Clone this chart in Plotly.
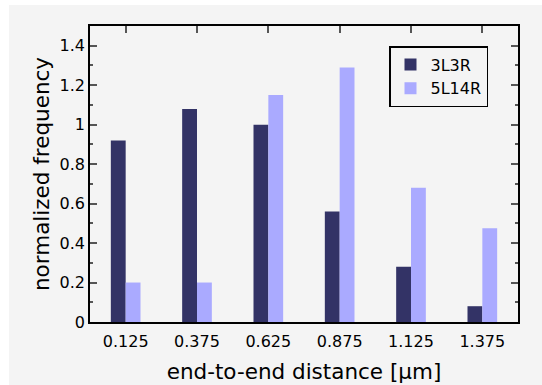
import plotly.graph_objects as go

categories = [0.125, 0.375, 0.625, 0.875, 1.125, 1.375]
tick_labels = ["0.125", "0.375", "0.625", "0.875", "1.125", "1.375"]
series_3L3R = [0.92, 1.08, 1.00, 0.56, 0.28, 0.08]
series_5L14R = [0.20, 0.20, 1.15, 1.29, 0.68, 0.475]

BG = "#f4f4f4"
FONT = "DejaVu Sans"
W, H = 542, 385
L, R, T, B = 90, 24, 26, 63
pw, ph = W - L - R, H - T - B

fig = go.Figure()
fig.add_trace(go.Bar(x=categories, y=series_3L3R, name="3L3R", width=0.052, offset=-0.052,
                     marker=dict(color="#333366", line=dict(width=0))))
fig.add_trace(go.Bar(x=categories, y=series_5L14R, name="5L14R", width=0.052, offset=0,
                     marker=dict(color="#aaaaff", line=dict(width=0))))

fig.update_layout(
    width=W, height=H,
    margin=dict(l=L, r=R, t=T, b=B, pad=0, autoexpand=False),
    paper_bgcolor="white", plot_bgcolor=BG,
    font=dict(family=FONT, size=16, color="black"),
    barmode="overlay",
    shapes=[dict(type="rect", xref="paper", yref="paper", layer="below",
                 x0=(9 - L) / pw, x1=(W - L) / pw,
                 y0=-(H - (H - B)) / ph - 0.01, y1=(H - B - 5) / ph,
                 fillcolor=BG, line=dict(width=0))],
    xaxis=dict(range=[0, 1.5], tickmode="array", tickvals=categories, ticktext=tick_labels,
               ticks="", showline=True, linecolor="black", linewidth=1.5, mirror=True,
               showgrid=False, zeroline=False, tickfont=dict(size=16), ticklabelstandoff=4,
               automargin=False,
               title=dict(text="end-to-end distance [μm]", font=dict(size=21.5), standoff=14)),
    xaxis2=dict(range=[0, 1.5], overlaying="x", side="top", tickmode="array", tickvals=categories,
                ticks="inside", ticklen=7, tickwidth=1.5, tickcolor="#555555",
                showticklabels=False, showline=False, showgrid=False, zeroline=False),
    yaxis=dict(range=[0, 1.5], tickmode="array", tickvals=[0, 0.2, 0.4, 0.6, 0.8, 1.0, 1.2, 1.4],
               ticktext=["0", "0.2", "0.4", "0.6", "0.8", "1", "1.2", "1.4"],
               ticks="inside", ticklen=7, tickwidth=1.5, tickcolor="#555555",
               minor=dict(tickvals=[0.1, 0.3, 0.5, 0.7, 0.9, 1.1, 1.3], ticks="inside",
                          ticklen=3.5, tickwidth=1.5, tickcolor="#555555"),
               showline=True, linecolor="black", linewidth=1.5, mirror="ticks",
               showgrid=False, zeroline=False, tickfont=dict(size=16), automargin=False,
               title=dict(text="normalized frequency", font=dict(size=21.5), standoff=4)),
    legend=dict(x=(389 - L) / pw, y=(H - B - 46) / ph, xanchor="left", yanchor="top",
                bgcolor=BG, bordercolor="black", borderwidth=1.5,
                font=dict(size=16), tracegroupgap=0, itemwidth=30),
    showlegend=True,
)
fig.add_trace(go.Scatter(x=[0], y=[0], xaxis="x2", mode="markers", marker=dict(opacity=0),
                         showlegend=False, hoverinfo="skip"))

fig.write_html("out.html")
